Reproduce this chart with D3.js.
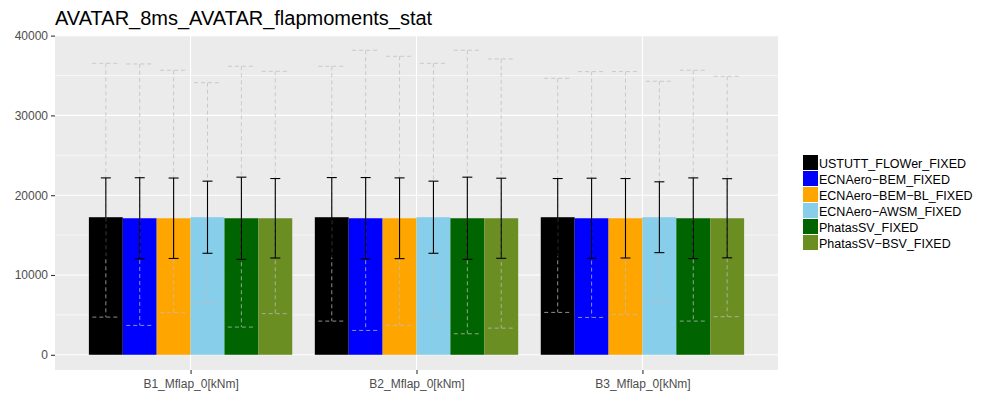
<!DOCTYPE html>
<html>
<head>
<meta charset="utf-8">
<script src="https://cdn.jsdelivr.net/npm/d3@7"></script>
<style>
  html, body { margin: 0; padding: 0; background: #ffffff; }
  svg { display: block; font-family: "Liberation Sans", Arial, Helvetica, sans-serif; }
</style>
</head>
<body>
<svg id="chart" width="987" height="396"></svg>
<script>
// Load cases on the x axis
const categories = ["B1_Mflap_0[kNm]", "B2_Mflap_0[kNm]", "B3_Mflap_0[kNm]"];

// Simulation codes (one bar per code within each load case)
const seriesNames = [
  "USTUTT_FLOWer_FIXED",
  "ECNAero\u2212BEM_FIXED",
  "ECNAero\u2212BEM\u2212BL_FIXED",
  "ECNAero\u2212AWSM_FIXED",
  "PhatasSV_FIXED",
  "PhatasSV\u2212BSV_FIXED"
];
const seriesColors = ["#000000", "#0000ff", "#ffa500", "#87ceeb", "#006400", "#6b8e23"];

// Mean flap moment per code, per load case [B1, B2, B3]
const meanValues = [
  [17240, 17240, 17240],
  [17110, 17110, 17110],
  [17110, 17110, 17110],
  [17240, 17240, 17240],
  [17110, 17110, 17110],
  [17110, 17110, 17110]
];

// Standard deviation per code, per load case
const sdValues = [
  [4930, 4970, 4850],
  [5080, 5100, 5020],
  [5040, 5060, 4980],
  [4520, 4520, 4440],
  [5150, 5150, 5060],
  [4980, 5020, 4960]
];

// Minimum and maximum per code, per load case
const minValues = [
  [4720, 4220, 5310],
  [3680, 3050, 4680],
  [5280, 3680, 5060],
  [6530, 4770, 6610],
  [3470, 2630, 4220],
  [5150, 3340, 4770]
];
const maxValues = [
  [36530, 36160, 34650],
  [36450, 38170, 35490],
  [35660, 37410, 35490],
  [34100, 36530, 34280],
  [36160, 38170, 35660],
  [35530, 37080, 34900]
];

const yTicks = [0, 10000, 20000, 30000, 40000];
const yMinorTicks = [5000, 15000, 25000, 35000];
const chartTitle = "AVATAR_8ms_AVATAR_flapmoments_stat";

// Flatten into records for drawing
const records = [];
seriesNames.forEach((name, s) => {
  categories.forEach((cat, c) => {
    records.push({
      series: name, s, cat,
      mean: meanValues[s][c],
      sd: sdValues[s][c],
      min: minValues[s][c],
      max: maxValues[s][c]
    });
  });
});

const svg = d3.select("#chart");
const panel = { left: 55, right: 778, top: 35, bottom: 370 };

// Discrete x: 0.6 band padding on each outer side
const nCat = categories.length;
const unit = (panel.right - panel.left) / (nCat - 1 + 1.2);
const x = d3.scalePoint().domain(categories)
  .range([panel.left + 0.6 * unit, panel.right - 0.6 * unit]);

// Continuous y with 5% expansion around [0, data max]
const dataMax = d3.max(records, d => d.max);
const pad = 0.05 * dataMax;
const y = d3.scaleLinear().domain([-pad, dataMax + pad]).range([panel.bottom, panel.top]);

const dodgeWidth = 0.9 * unit;
const barW = dodgeWidth / seriesNames.length;
const barX = d => x(d.cat) - dodgeWidth / 2 + d.s * barW;
const barMid = d => barX(d) + barW / 2;

// Panel background and grid
svg.append("rect")
  .attr("x", panel.left).attr("y", panel.top)
  .attr("width", panel.right - panel.left).attr("height", panel.bottom - panel.top)
  .attr("fill", "#ebebeb");

svg.append("g").selectAll("line").data(yMinorTicks).join("line")
  .attr("x1", panel.left).attr("x2", panel.right)
  .attr("y1", d => y(d)).attr("y2", d => y(d))
  .attr("stroke", "#ffffff").attr("stroke-width", 0.55);

svg.append("g").selectAll("line").data(yTicks).join("line")
  .attr("x1", panel.left).attr("x2", panel.right)
  .attr("y1", d => y(d)).attr("y2", d => y(d))
  .attr("stroke", "#ffffff").attr("stroke-width", 1.1);

svg.append("g").selectAll("line").data(categories).join("line")
  .attr("x1", d => x(d)).attr("x2", d => x(d))
  .attr("y1", panel.top).attr("y2", panel.bottom)
  .attr("stroke", "#ffffff").attr("stroke-width", 1.1);

// Bars (means)
svg.append("g").selectAll("rect").data(records).join("rect")
  .attr("x", d => barX(d))
  .attr("y", d => y(d.mean))
  .attr("width", barW)
  .attr("height", d => y(0) - y(d.mean))
  .attr("fill", d => seriesColors[d.s]);

// Min/max range bars (dashed)
const mmHalf = 13.5;
const mmG = svg.append("g").attr("stroke", "rgb(190,190,190)").attr("stroke-opacity", 0.75)
  .attr("stroke-width", 1).attr("stroke-dasharray", "4,3").attr("fill", "none");
records.forEach(d => {
  const cx = barMid(d), lo = y(d.min), hi = y(d.max);
  mmG.append("line").attr("x1", cx).attr("x2", cx).attr("y1", hi).attr("y2", lo);
  mmG.append("line").attr("x1", cx - mmHalf).attr("x2", cx + mmHalf).attr("y1", lo).attr("y2", lo);
  mmG.append("line").attr("x1", cx - mmHalf).attr("x2", cx + mmHalf).attr("y1", hi).attr("y2", hi);
});

// Mean +/- sd error bars
const sdHalf = 5;
const sdG = svg.append("g").attr("stroke", "#000000").attr("stroke-width", 1.1).attr("fill", "none");
records.forEach(d => {
  const cx = barMid(d), lo = y(d.mean - d.sd), hi = y(d.mean + d.sd);
  sdG.append("line").attr("x1", cx).attr("x2", cx).attr("y1", lo).attr("y2", hi);
  sdG.append("line").attr("x1", cx - sdHalf).attr("x2", cx + sdHalf).attr("y1", lo).attr("y2", lo);
  sdG.append("line").attr("x1", cx - sdHalf).attr("x2", cx + sdHalf).attr("y1", hi).attr("y2", hi);
});

// Axes
const yAxis = d3.axisLeft(y).tickValues(yTicks).tickSize(4).tickPadding(3).tickFormat(d3.format("d"));
const yg = svg.append("g").attr("transform", `translate(${panel.left},0)`).call(yAxis);
const xAxis = d3.axisBottom(x).tickSize(4).tickPadding(5);
const xg = svg.append("g").attr("transform", `translate(0,${panel.bottom})`).call(xAxis);
[yg, xg].forEach(g => {
  g.select(".domain").remove();
  g.selectAll(".tick line").attr("stroke", "#333333").attr("stroke-width", 1.1);
  g.selectAll(".tick text").attr("fill", "#4d4d4d").style("font-size", "12px")
    .style("font-family", "'Liberation Sans', Arial, sans-serif");
});

// Title
svg.append("text")
  .attr("x", panel.left).attr("y", 25)
  .attr("fill", "#000000")
  .style("font-size", "20px")
  .text(chartTitle);

// Legend
const legend = svg.append("g").attr("transform", "translate(803,155)");
const keyH = 16;
seriesNames.forEach((name, i) => {
  const row = legend.append("g").attr("transform", `translate(0,${i * keyH})`);
  row.append("rect").attr("x", 0).attr("y", 0).attr("width", 15).attr("height", keyH - 1)
    .attr("fill", seriesColors[i]);
  row.append("text").attr("x", 16).attr("y", keyH / 2).attr("dy", "0.36em")
    .style("font-size", "12.5px").attr("fill", "#000000").text(name);
});
</script>
</body>
</html>
